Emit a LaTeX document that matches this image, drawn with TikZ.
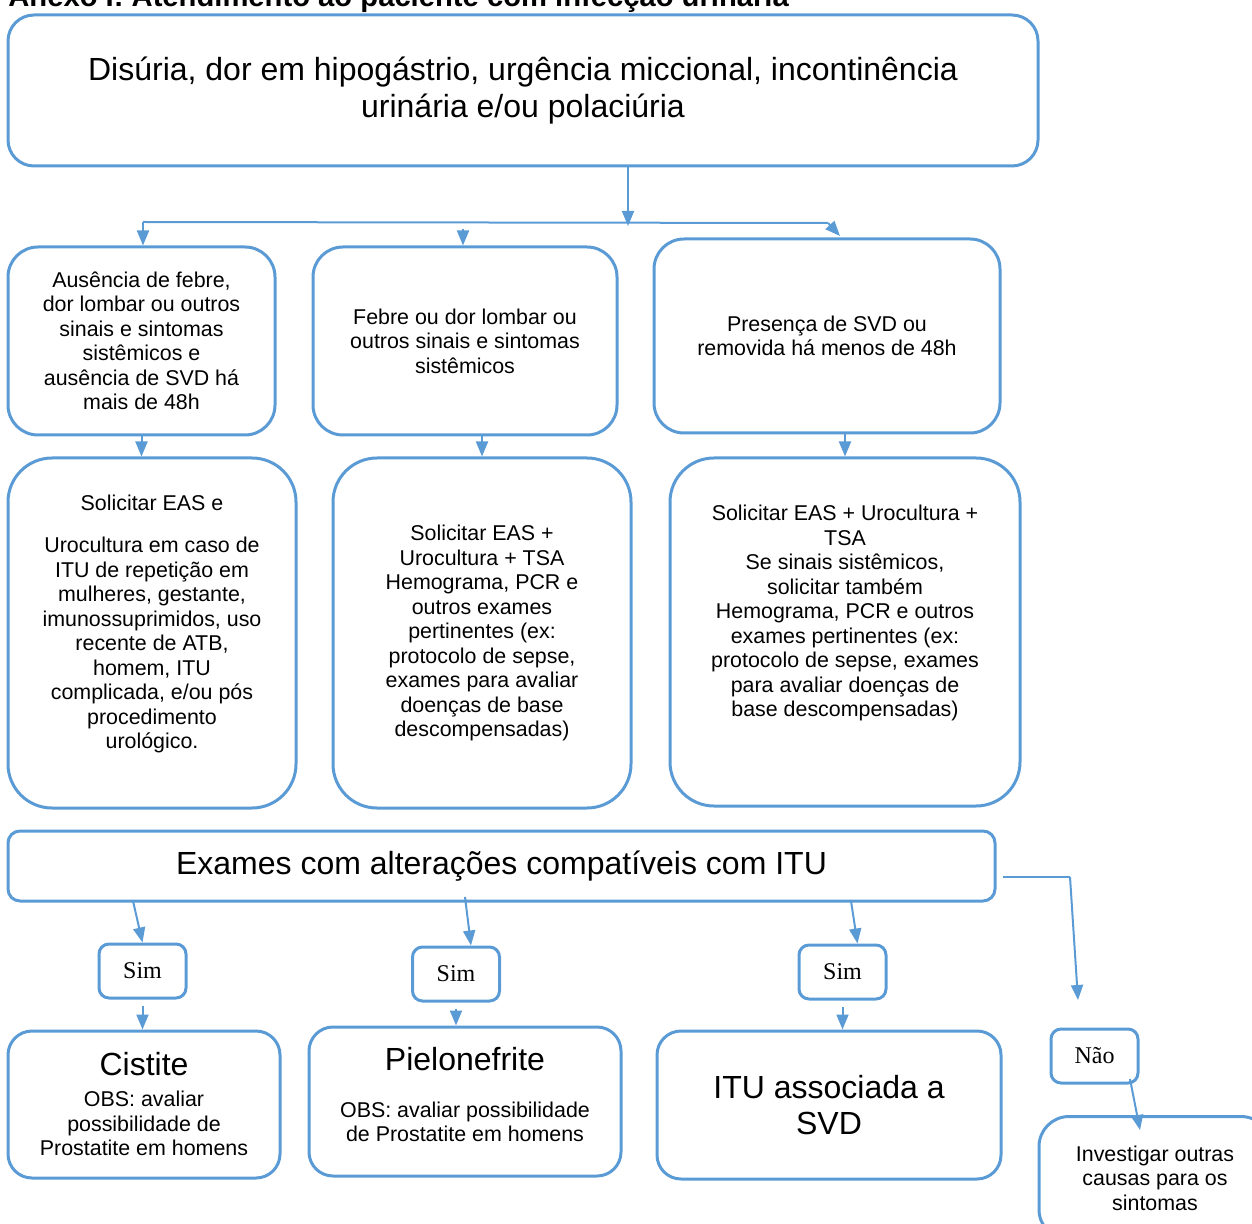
\documentclass[tikz,border=0pt]{standalone}
\usepackage{fontspec}
\setmainfont{Liberation Sans}
\newfontfamily\simfont{Liberation Serif}
\usetikzlibrary{arrows.meta,calc}
\definecolor{flowblue}{HTML}{5B9BD5}
\newcommand{\smalltxt}{\fontsize{10.7}{12.25}\selectfont}
\newcommand{\bigtxt}{\fontsize{16}{18.25}\selectfont}

\begin{document}
\begin{tikzpicture}[x=0.5pt, y=-0.5pt,
    box/.style={draw=flowblue, line width=1.5pt, rounded corners=13pt, align=center, inner sep=0pt, font=\smalltxt},
    answer/.style={draw=flowblue, line width=1.5pt, rounded corners=5pt, inner sep=0pt, minimum width=43.5pt, minimum height=27pt, font=\simfont\fontsize{12}{14}\selectfont},
    link/.style={draw=flowblue, line width=1pt},
    arr/.style={link, -{Triangle[length=7.5pt,width=6pt]}}]
    \useasboundingbox (0,0) rectangle (1252,1224);

    \node[anchor=base west, inner sep=0pt, font=\bfseries\fontsize{14.6}{17}\selectfont] (title) at (8,7) {Anexo I: Atendimento ao paciente com infecção urinária};

    % symptoms
    \node[box, font=\bigtxt, minimum width=515pt, minimum height=75.5pt] (top) at (523,90.5) {Disúria, dor em hipogástrio, urgência miccional, incontinência\\ urinária e/ou polaciúria};

    % row 2
    \node[box, rounded corners=15pt, minimum width=133.5pt, minimum height=94pt] (b1) at (141.5,341) {Ausência de febre,\\ dor lombar ou outros\\ sinais e sintomas\\ sistêmicos e\\ ausência de SVD há\\ mais de 48h};
    \node[box, rounded corners=15pt, minimum width=152pt, minimum height=94pt] (b2) at (465,341) {Febre ou dor lombar ou\\ outros sinais e sintomas\\ sistêmicos};
    \node[box, rounded corners=15pt, minimum width=173pt, minimum height=97pt] (b3) at (827,336) {Presença de SVD ou\\ removida há menos de 48h};

    % row 3
    \node[box, rounded corners=22pt, minimum width=144pt, minimum height=175pt] (c1) at (152,633) {Solicitar EAS e\\[8.75pt] Urocultura em caso de\\ ITU de repetição em\\ mulheres, gestante,\\ imunossuprimidos, uso\\ recente de ATB,\\ homem, ITU\\ complicada, e/ou pós\\ procedimento\\ urológico.\\[-1.25pt]\mbox{}};
    \node[box, rounded corners=22pt, minimum width=149pt, minimum height=175pt] (c2) at (482,633) {Solicitar EAS +\\ Urocultura + TSA\\ Hemograma, PCR e\\ outros exames\\ pertinentes (ex:\\ protocolo de sepse,\\ exames para avaliar\\ doenças de base\\ descompensadas)};
    \node[box, rounded corners=22pt, minimum width=175pt, minimum height=174pt] (c3) at (845,632) {Solicitar EAS + Urocultura +\\ TSA\\ Se sinais sistêmicos,\\ solicitar também\\ Hemograma, PCR e outros\\ exames pertinentes (ex:\\ protocolo de sepse, exames\\ para avaliar doenças de\\ base descompensadas)\\[8.75pt]\mbox{}};

    % results of exams
    \node[box, font=\bigtxt, rounded corners=6pt, minimum width=493.5pt, minimum height=35pt] (ex) at (501.5,866) {Exames com alterações compatíveis com ITU};

    \node[answer] (s1) at (142.5,971) {Sim};
    \node[answer] (s2) at (456,974) {Sim};
    \node[answer] (s3) at (842.5,972) {Sim};
    \node[answer] (nao) at (1094.5,1056) {Não};

    % diagnoses
    \node[box, rounded corners=12pt, minimum width=136pt, minimum height=73.5pt] (r1) at (144,1104.5) {{\bigtxt Cistite}\\[3.25pt] OBS: avaliar\\ possibilidade de\\ Prostatite em homens};
    \node[box, rounded corners=12pt, minimum width=156pt, minimum height=74.5pt] (r2) at (465,1101.5) {{\bigtxt Pielonefrite}\\[11.25pt] OBS: avaliar possibilidade\\ de Prostatite em homens\\[-5.25pt]\mbox{}};
    \node[box, font=\bigtxt, rounded corners=12pt, minimum width=172pt, minimum height=74pt] (r3) at (829,1105) {ITU associada a\\ SVD};
    \node[box, rounded corners=15pt, minimum width=116pt, minimum height=61.5pt] (inv) at (1155,1178) {Investigar outras\\ causas para os\\ sintomas};

    \coordinate (split) at (628,226);
    \coordinate (hl) at (143,222);
    \coordinate (hm) at (463,229);
    \coordinate (hr) at (828,223);
    \coordinate (hrtip) at (840,236);
    \coordinate (e1) at (133,901);
    \coordinate (e2) at (465,897);
    \coordinate (e3) at (851,901);
    \coordinate (n1) at (1003,877);
    \coordinate (n2) at (1070,877);
    \coordinate (n3) at (1078,1000);
    \coordinate (m1) at (1130,1079);
    \coordinate (m2) at (1140,1130);

    \draw[arr] (top.south -| split) -- (split);
    \draw[link] (hl) -- (hr); % branch line
    \draw[arr] (hl) -- (hl |- b1.north);
    \draw[arr] (hm) -- (hm |- b2.north);
    \draw[arr] (hr) -- (hrtip);

    \draw[arr] (b1.south) -- (b1.south |- c1.north);
    \draw[arr] (c2.north |- b2.south) -- (c2.north);
    \draw[arr] (c3.north |- b3.south) -- (c3.north);

    \draw[arr] (e1) -- (s1.north);
    \draw[arr] (e2) -- ($(s2.north)+(15,0)$);
    \draw[arr] (e3) -- ($(s3.north)+(15,0)$);
    \draw[link, line width=0.6pt] (n1) -- (n2);
    \draw[arr] (n2) -- (n3);

    \draw[arr, shorten <=3pt] (s1.south) -- (s1.south |- r1.north);
    \draw[arr, shorten <=3pt] (s2.south) -- (s2.south |- r2.north);
    \draw[arr, shorten <=3pt] (s3.south) -- (s3.south |- r3.north);
    \draw[arr] (m1) -- (m2);
\end{tikzpicture}
\end{document}
